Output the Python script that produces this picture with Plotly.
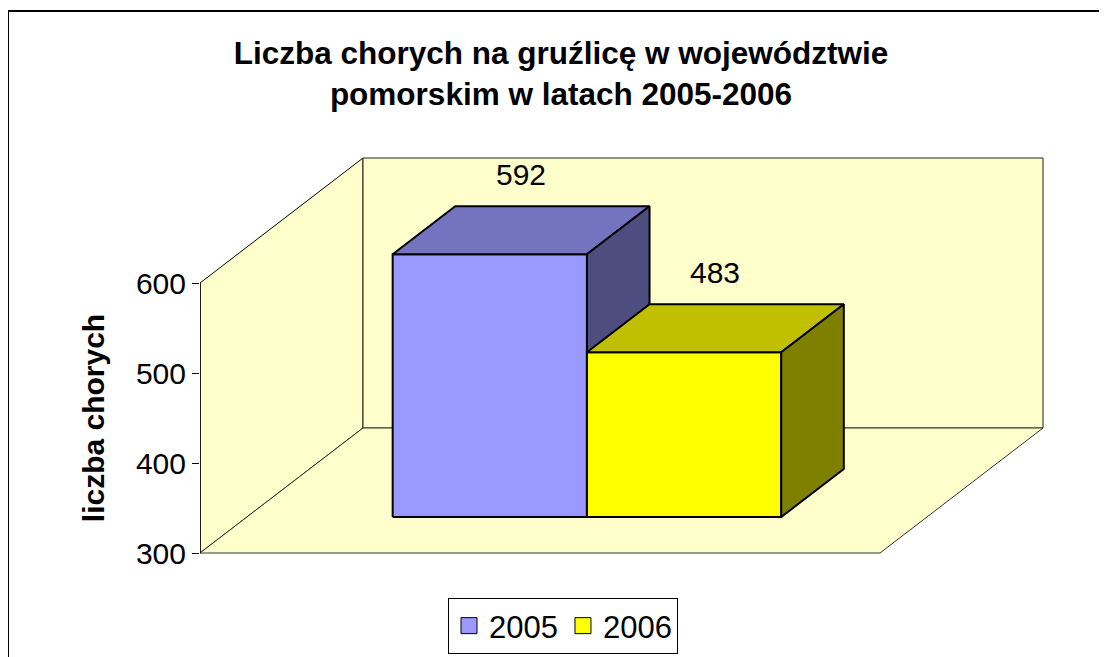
import plotly.graph_objects as go

# ---------------- data ----------------
title_lines = ["Liczba chorych na gruźlicę w województwie", "pomorskim w latach 2005-2006"]
years = ["2005", "2006"]
cases = [592, 483]
y_ticks = [300, 400, 500, 600]
y_title = "liczba chorych"

front_colors = ["#9999FF", "#FFFF00"]
top_colors = ["#7373BF", "#C0C000"]
side_colors = ["#4D4D80", "#808000"]
wall_color = "#FFFFCC"

# ---------------- geometry (layout only) ----------------
OFF = 8                        # page body margin (page px -> figure px)
W_PX, H_PX = 1107 - OFF, 657 - OFF
AXIS_PX = 200                  # page x of the value axis
M_L = AXIS_PX - OFF
M_R, M_T, M_B = 20, 100, 0
PLOT_W = W_PX - M_L - M_R
PLOT_H = H_PX - M_T - M_B
PPU = 0.9                      # pixels per value unit (both directions)
V0, V1 = y_ticks[0], y_ticks[-1]
FRONT_V0_PX = 553 - OFF        # figure row of the floor front edge
FLOOR_W = 680 / PPU            # category (floor) width in units
DEPTH_X = 163 / PPU            # oblique depth offset
DEPTH_Y = 125 / PPU
Z0, Z1 = 0.288, 0.672          # bar depth span (fraction of floor depth)
GAP = 1.5                      # gap width (fraction of bar width)

y_lo = V0 - (H_PX - M_B - FRONT_V0_PX) / PPU
y_hi = y_lo + PLOT_H / PPU
x_lo, x_hi = 0, PLOT_W / PPU

FONT = "Liberation Sans, Arial"


def proj(x, v, z):
    return x + z * DEPTH_X, v + z * DEPTH_Y


def poly(pts, fill, lc="black", lw=1.0):
    xs, ys = zip(*[proj(*p) for p in pts])
    xs = list(xs) + [xs[0]]
    ys = list(ys) + [ys[0]]
    return go.Scatter(x=xs, y=ys, mode="lines", fill="toself", fillcolor=fill,
                      line=dict(color=lc, width=lw), hoverinfo="skip",
                      showlegend=False)


def px_to_paper_x(page_px):
    return (page_px - OFF - M_L) / PLOT_W


def px_to_paper_y(page_py):
    return (H_PX - M_B - (page_py - OFF)) / PLOT_H


fig = go.Figure()

# walls and floor
fig.add_trace(poly([(0, V0, 0), (0, V0, 1), (0, V1, 1), (0, V1, 0)], wall_color, "black", 1))
fig.add_trace(poly([(0, V0, 1), (FLOOR_W, V0, 1), (FLOOR_W, V1, 1), (0, V1, 1)], wall_color, "#222222", 1))
fig.add_trace(poly([(0, V0, 0), (FLOOR_W, V0, 0), (FLOOR_W, V0, 1), (0, V0, 1)], wall_color, "#333333", 1))

# bars
bw = FLOOR_W / (len(cases) + GAP)
for i, (yr, v) in enumerate(zip(years, cases)):
    x0 = (GAP / 2 + i) * bw
    x1 = x0 + bw
    fig.add_trace(poly([(x0, V0, Z0), (x1, V0, Z0), (x1, v, Z0), (x0, v, Z0)], front_colors[i], "black", 2))
    fig.add_trace(poly([(x0, v, Z0), (x1, v, Z0), (x1, v, Z1), (x0, v, Z1)], top_colors[i], "black", 2))
    fig.add_trace(poly([(x1, V0, Z0), (x1, V0, Z1), (x1, v, Z1), (x1, v, Z0)], side_colors[i], "black", 2))
    lx, _ = proj((x0 + x1) / 2, v, (Z0 + Z1) / 2)
    _, ly = proj(x0, v, Z1)
    fig.add_annotation(x=lx, y=ly, xref="x", yref="y", text=str(v), showarrow=False,
                       yanchor="bottom", yshift=13,
                       font=dict(size=30, color="black", family=FONT))

# legend entries
for i, yr in enumerate(years):
    fig.add_trace(go.Scatter(x=[None], y=[None], mode="markers", name=yr,
                             marker=dict(symbol="square", size=19, color=front_colors[i],
                                         line=dict(color="black", width=1))))

# value axis front edge (on the value axis)
fig.add_trace(go.Scatter(x=[0, 0], y=[V0, V1], xaxis="x", yaxis="y2", mode="lines",
                         line=dict(color="black", width=1.5), hoverinfo="skip",
                         showlegend=False))

d0 = (H_PX - M_B - FRONT_V0_PX) / PLOT_H
d1 = d0 + (V1 - V0) * PPU / PLOT_H

fig.update_layout(
    width=W_PX, height=H_PX,
    margin=dict(l=M_L, r=M_R, t=M_T, b=M_B, autoexpand=False),
    paper_bgcolor="white", plot_bgcolor="rgba(0,0,0,0)",
    font=dict(family=FONT, color="black"),
    title=dict(text="<b>" + "<br>".join(title_lines) + "</b>",
               x=(561 - OFF) / W_PX, xanchor="center", y=1 - (64 - OFF) / H_PX, yanchor="top",
               font=dict(size=31.5, color="black", family=FONT)),
    xaxis=dict(range=[x_lo, x_hi], visible=False, fixedrange=True),
    yaxis=dict(range=[y_lo, y_hi], visible=False, fixedrange=True),
    yaxis2=dict(range=[V0, V1], domain=[d0, d1], anchor="x",
                tickvals=y_ticks, ticks="outside", ticklen=7, tickcolor="black",
                tickwidth=1, showgrid=False, zeroline=False, showline=False,
                tickfont=dict(size=30, color="black"),
                title=dict(text="<b>" + y_title + "</b>", standoff=22,
                           font=dict(size=30, color="black")),
                fixedrange=True),
    showlegend=True,
    legend=dict(orientation="h", x=px_to_paper_x(563), xanchor="center",
                y=px_to_paper_y(654), yanchor="bottom",
                bordercolor="black", borderwidth=1, bgcolor="white",
                font=dict(size=31, color="black"), itemwidth=30),
    shapes=[dict(type="rect", xref="paper", yref="paper",
                 x0=px_to_paper_x(8), x1=px_to_paper_x(1130),
                 y0=px_to_paper_y(680), y1=px_to_paper_y(11),
                 line=dict(color="black", width=2), fillcolor="rgba(0,0,0,0)",
                 layer="below")],
)

fig.write_html("out.html")
